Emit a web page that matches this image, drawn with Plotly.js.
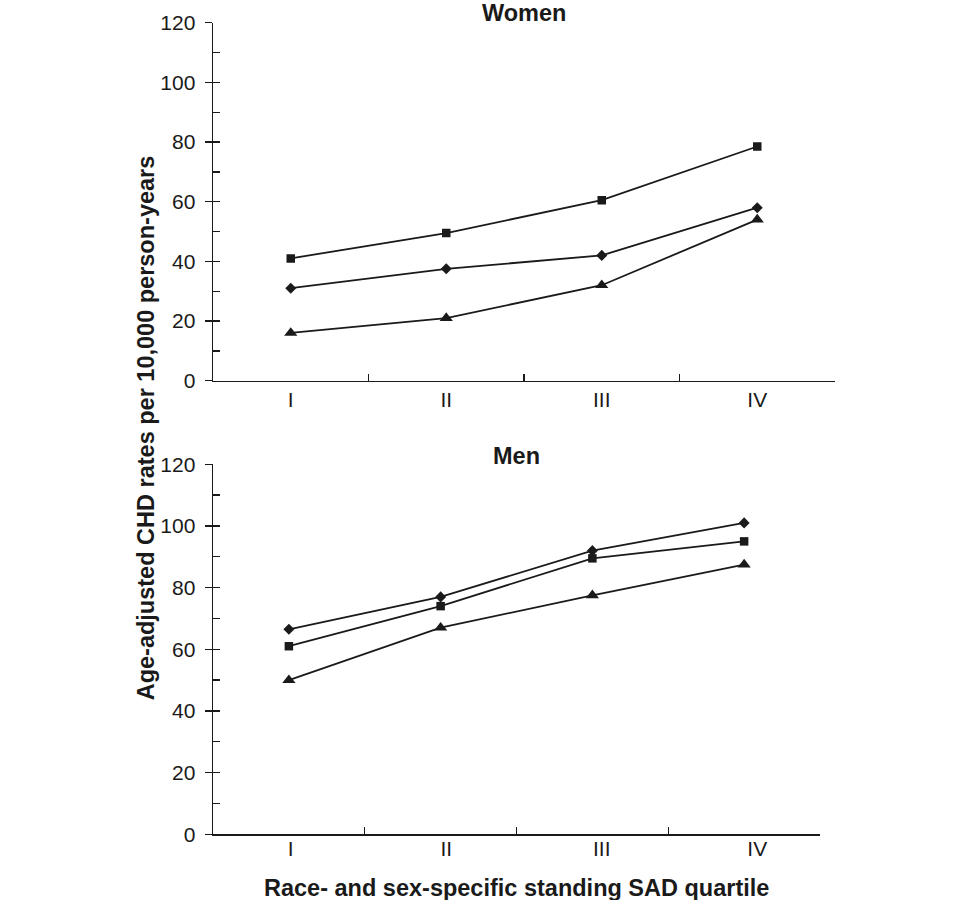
<!DOCTYPE html>
<html>
<head>
<meta charset="utf-8">
<script src="https://cdn.plot.ly/plotly-3.0.1.min.js"></script>
<style>html,body{margin:0;padding:0;background:#fff;}#chart{width:960px;height:900px;}</style>
</head>
<body>
<div id="chart"></div>
<script>
// Data
var quartiles = ['I', 'II', 'III', 'IV'];
var womenSquare = [41, 49.5, 60.5, 78.5];
var womenDiamond = [31, 37.5, 42, 58];
var womenTriangle = [16, 21, 32, 54];
var menDiamond = [66.5, 77, 92, 101];
var menSquare = [61, 74, 89.5, 95];
var menTriangle = [50, 67, 77.5, 87.5];
var yTickVals = [0, 20, 40, 60, 80, 100, 120];

var ink = '#1a1a1a';
var FONT = 'Liberation Sans, Arial, sans-serif';

function series(x, y, symbol, size, xa, ya) {
  return {
    type: 'scatter', mode: 'lines+markers', x: x, y: y,
    xaxis: xa, yaxis: ya, showlegend: false, hoverinfo: 'skip',
    line: {color: ink, width: 1.8},
    marker: {symbol: symbol, size: size, color: ink}
  };
}
function dummy(xa, ya) {
  return {type: 'scatter', mode: 'markers', x: quartiles, y: quartiles.map(function(){return null;}),
    xaxis: xa, yaxis: ya, showlegend: false, hoverinfo: 'skip', marker: {opacity: 0}};
}

var traces = [
  series(quartiles, womenSquare, 'square', 8.5, 'x', 'y'),
  series(quartiles, womenDiamond, 'diamond', 8.5, 'x', 'y'),
  series(quartiles, womenTriangle, 'triangle-up', 11.5, 'x', 'y'),
  series(quartiles, menDiamond, 'diamond', 8.5, 'x2', 'y2'),
  series(quartiles, menSquare, 'square', 8.5, 'x2', 'y2'),
  series(quartiles, menTriangle, 'triangle-up', 11.5, 'x2', 'y2'),
  dummy('x3', 'y3'),
  dummy('x', 'y4'),
  dummy('x2', 'y5')
];

var W = 960, H = 900;
var topX = [213 / W, 835 / W];
var botX = [213 / W, 820 / W];
var topY = [1 - 380.7 / H, 1 - 22.7 / H];
var botY = [1 - 834.3 / H, 1 - 464.3 / H];

var xTickFont = {family: FONT, size: 21, color: ink};
var yTickFont = {family: FONT, size: 21, color: ink};

function catAxis(domain, anchor, showLabels) {
  return {
    domain: domain, anchor: anchor, type: 'category', range: [-0.5, 3.5],
    tickson: 'boundaries', ticks: 'inside', ticklen: 7, tickwidth: 1.4, tickcolor: ink,
    showline: true, linecolor: ink, linewidth: 1.4, showgrid: false, zeroline: false,
    showticklabels: showLabels, tickfont: xTickFont, automargin: false, fixedrange: true
  };
}
function valAxis(domain, anchor) {
  return {
    domain: domain, anchor: anchor, range: [0, 120], tickmode: 'array', tickvals: yTickVals,
    ticks: 'outside', ticklen: 7, tickwidth: 1.4, tickcolor: ink, ticklabelstandoff: 5,
    showline: true, linecolor: ink, linewidth: 1.4, showgrid: false, zeroline: false,
    tickfont: yTickFont, automargin: false, fixedrange: true
  };
}
function minorAxis(over, anchor) {
  return {
    overlaying: over, anchor: anchor, range: [0, 120], dtick: 10, tick0: 0,
    ticks: 'inside', ticklen: 7, tickwidth: 1.4, tickcolor: ink,
    showline: false, showgrid: false, zeroline: false, showticklabels: false,
    automargin: false, fixedrange: true
  };
}

var layout = {
  width: W, height: H,
  margin: {l: 0, r: 0, t: 0, b: 0},
  paper_bgcolor: '#ffffff', plot_bgcolor: 'rgba(0,0,0,0)',
  font: {family: FONT, color: ink},
  xaxis: catAxis(topX, 'y', true),
  yaxis: valAxis(topY, 'x'),
  xaxis2: catAxis(botX, 'y2', false),
  yaxis2: valAxis(botY, 'x2'),
  xaxis3: {domain: topX, anchor: 'y3', type: 'category', range: [-0.5, 3.5],
    showline: false, ticks: '', showgrid: false, zeroline: false,
    tickfont: xTickFont, automargin: false, fixedrange: true},
  yaxis3: {domain: botY, anchor: 'x3', range: [0, 120], visible: false, fixedrange: true},
  yaxis4: minorAxis('y', 'x'),
  yaxis5: minorAxis('y2', 'x2'),
  annotations: [
    {text: '<b>Women</b>', xref: 'paper', yref: 'paper', x: 524 / W, y: 1 - 13.3 / H,
      xanchor: 'center', yanchor: 'middle', showarrow: false, font: {family: FONT, size: 23.5, color: ink}},
    {text: '<b>Men</b>', xref: 'paper', yref: 'paper', x: 516.5 / W, y: 1 - 456 / H,
      xanchor: 'center', yanchor: 'middle', showarrow: false, font: {family: FONT, size: 23.5, color: ink}},
    {text: '<b>Race- and sex-specific standing SAD quartile</b>', xref: 'paper', yref: 'paper',
      x: 516.5 / W, y: 1 - 888.3 / H, xanchor: 'center', yanchor: 'middle', showarrow: false,
      font: {family: FONT, size: 23.5, color: ink}},
    {text: '<b>Age-adjusted CHD rates per 10,000 person-years</b>', xref: 'paper', yref: 'paper',
      x: 145.8 / W, y: 1 - 427.5 / H, xanchor: 'center', yanchor: 'middle', textangle: -90, showarrow: false,
      font: {family: FONT, size: 23.5, color: ink}}
  ]
};

Plotly.newPlot('chart', traces, layout, {displayModeBar: false, staticPlot: true});
</script>
</body>
</html>
